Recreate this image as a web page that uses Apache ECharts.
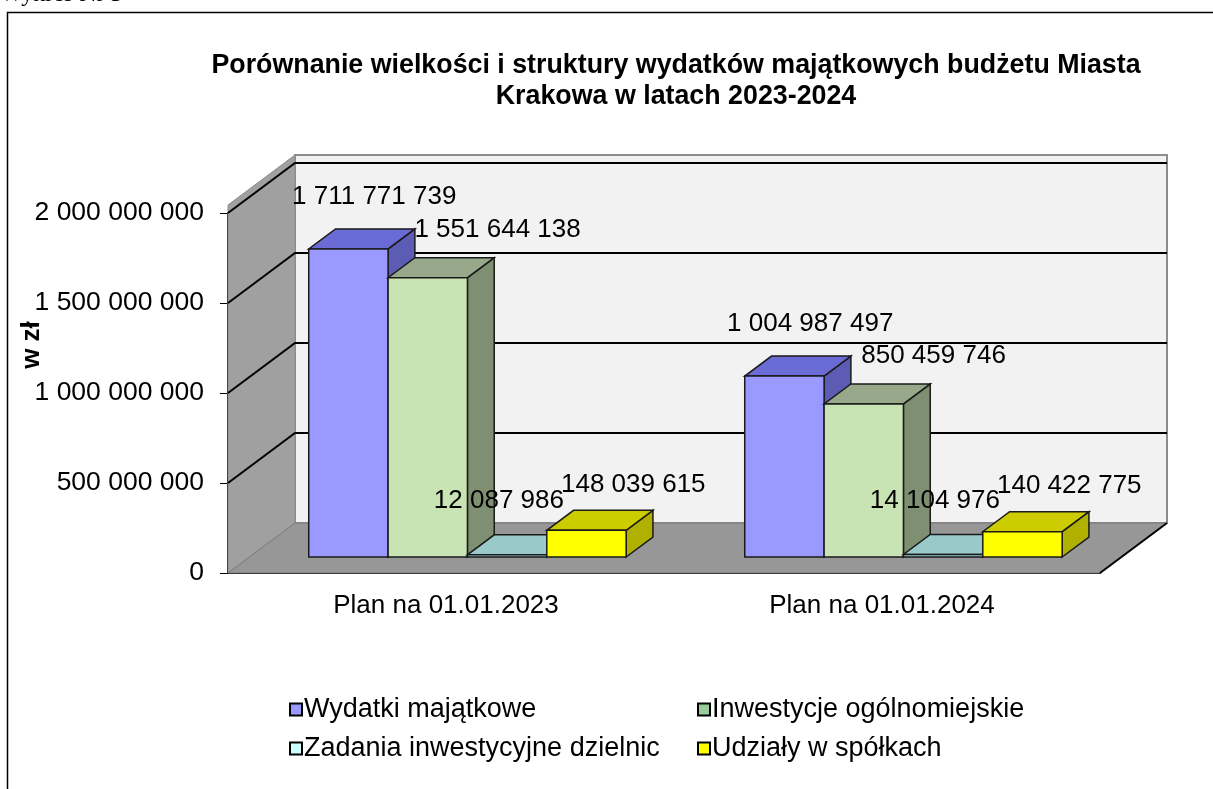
<!DOCTYPE html>
<html>
<head>
<meta charset="utf-8">
<title>Wydatki majątkowe Krakowa</title>
<script src="https://cdn.jsdelivr.net/npm/echarts@6/dist/echarts.min.js"></script>
<style>
  html, body { margin: 0; padding: 0; background: #fff; }
  #chart { width: 1213px; height: 789px; }
</style>
</head>
<body>
<div id="chart"></div>
<script>
// dane wykresu
const categories = ['Plan na 01.01.2023', 'Plan na 01.01.2024'];
const seriesNames = ['Wydatki majątkowe', 'Inwestycje ogólnomiejskie', 'Zadania inwestycyjne dzielnic', 'Udziały w spółkach'];
const wydatkiMajatkowe = [1711771739, 1004987497];
const inwestycjeOgolnomiejskie = [1551644138, 850459746];
const zadaniaDzielnic = [12087986, 14104976];
const udzialyWSpolkach = [148039615, 140422775];
const yTicks = [0, 500000000, 1000000000, 1500000000, 2000000000];

const seriesValues = [wydatkiMajatkowe, inwestycjeOgolnomiejskie, zadaniaDzielnic, udzialyWSpolkach];

// kolory ścian słupków (przód, góra, bok) i kwadracika w legendzie
const barColors = [
  { front: '#9999ff', top: '#6b6bd6', side: '#5c5cb4', legend: '#9999ff' },
  { front: '#c9e4b4', top: '#97a98a', side: '#7f8f72', legend: '#99cc99' },
  { front: '#99cccc', top: '#99c9c9', side: '#6f9f9f', legend: '#ccffff' },
  { front: '#ffff00', top: '#cccc00', side: '#b0b000', legend: '#ffff00' }
];
// przesunięcie etykiet względem tylnej krawędzi górnej ściany
const labelOffsets = [[-1, -32], [43, -28], [-35, -34], [20, -26]];

// "głębia" wykresu 3D w pikselach
const DEPTH_X = 67, DEPTH_Y = -50;
const BAR_D0 = 0.32, BAR_D1 = 0.72;
const BAR_W = 0.182; // szerokość słupka jako część kategorii
const FONT = 'Arial, "Liberation Sans", sans-serif';

function fmt(v) {
  return String(v).replace(/\B(?=(\d{3})+(?!\d))/g, ' ');
}

// ściany, podłoga i linie siatki
function renderWalls(params, api) {
  const cs = params.coordSys;
  const x = cs.x, w = cs.width;
  const y0 = api.coord([0, 0])[1];
  const yMax = api.coord([0, yTicks[yTicks.length - 1]])[1];
  const rim = 8;
  const children = [
    { type: 'rect', shape: { x: x + DEPTH_X, y: yMax + DEPTH_Y - rim, width: w, height: y0 - yMax + rim },
      style: { fill: '#f2f2f2', stroke: '#8c8c8c', lineWidth: 2 } },
    { type: 'polygon', shape: { points: [[x, y0], [x + DEPTH_X, y0 + DEPTH_Y], [x + DEPTH_X, yMax + DEPTH_Y - rim], [x, yMax - rim]] },
      style: { fill: '#a0a0a0', stroke: '#8c8c8c', lineWidth: 1 } },
    { type: 'polygon', shape: { points: [[x, y0], [x + w, y0], [x + w + DEPTH_X, y0 + DEPTH_Y], [x + DEPTH_X, y0 + DEPTH_Y]] },
      style: { fill: '#979797', stroke: '#7a7a7a', lineWidth: 1 } },
    { type: 'line', shape: { x1: x + w, y1: y0, x2: x + w + DEPTH_X, y2: y0 + DEPTH_Y },
      style: { stroke: '#000', lineWidth: 2 } }
  ];
  yTicks.forEach(function (t) {
    if (t === 0) return;
    const yt = api.coord([0, t])[1];
    children.push({ type: 'polyline', shape: { points: [[x, yt], [x + DEPTH_X, yt + DEPTH_Y], [x + w + DEPTH_X, yt + DEPTH_Y]] },
      style: { stroke: '#000', lineWidth: 2, fill: null } });
  });
  return { type: 'group', children: children };
}

// słupek 3D dla serii si
function renderBar(si) {
  return function (params, api) {
    const ci = api.value(0);
    const v = api.value(1);
    const base = api.coord([ci, 0]);
    const top = api.coord([ci, v]);
    const band = api.size([1, 0])[0];
    const bw = band * BAR_W;
    const x0 = base[0] - 2 * bw + si * bw + BAR_D0 * DEPTH_X;
    const x1 = x0 + bw;
    const yb = base[1] + BAR_D0 * DEPTH_Y;
    const yt = top[1] + BAR_D0 * DEPTH_Y;
    const dx = (BAR_D1 - BAR_D0) * DEPTH_X, dy = (BAR_D1 - BAR_D0) * DEPTH_Y;
    const c = barColors[si];
    const off = labelOffsets[si];
    const edge = { stroke: '#1a1a1a', lineWidth: 1.5 };
    return {
      type: 'group',
      children: [
        { type: 'polygon', shape: { points: [[x1, yb], [x1 + dx, yb + dy], [x1 + dx, yt + dy], [x1, yt]] },
          style: Object.assign({ fill: c.side }, edge) },
        { type: 'polygon', shape: { points: [[x0, yt], [x1, yt], [x1 + dx, yt + dy], [x0 + dx, yt + dy]] },
          style: Object.assign({ fill: c.top }, edge) },
        { type: 'rect', shape: { x: x0, y: yt, width: bw, height: yb - yt },
          style: Object.assign({ fill: c.front }, edge) },
        { type: 'text', z2: 100, x: (x0 + x1) / 2 + dx + off[0], y: yt + dy + off[1],
          style: { text: fmt(v), fill: '#000', font: '26px ' + FONT, align: 'center', verticalAlign: 'middle' } }
      ]
    };
  };
}

const series = [{
  name: 'tlo',
  type: 'custom',
  silent: true,
  z: 1,
  renderItem: renderWalls,
  data: [[0, 0]]
}];
seriesNames.forEach(function (name, si) {
  series.push({
    name: name,
    type: 'custom',
    z: 2,
    itemStyle: { color: barColors[si].legend },
    renderItem: renderBar(si),
    encode: { x: 0, y: 1 },
    data: seriesValues[si].map(function (v, i) { return [i, v]; })
  });
});

const legendBase = {
  orient: 'vertical',
  icon: 'rect',
  itemWidth: 12,
  itemHeight: 12,
  itemGap: 12,
  top: 691,
  itemStyle: { borderColor: '#000', borderWidth: 2 },
  textStyle: { color: '#000', fontSize: 27, fontFamily: FONT, padding: [0, 0, 0, -3] }
};

const chart = echarts.init(document.getElementById('chart'));
chart.setOption({
  backgroundColor: '#fff',
  animation: false,
  grid: { left: 228, right: 113, top: 213, bottom: 216 },
  xAxis: {
    type: 'category',
    data: categories,
    axisLine: { lineStyle: { color: '#000', width: 2 } },
    axisTick: { length: 8, lineStyle: { color: '#000' } },
    axisLabel: { color: '#000', fontSize: 26, fontFamily: FONT, margin: 20 },
    splitLine: { show: false }
  },
  yAxis: {
    type: 'value',
    min: 0,
    max: 2000000000,
    interval: 500000000,
    axisLine: { show: true, lineStyle: { color: '#000', width: 2 } },
    axisTick: { show: true, length: 8, lineStyle: { color: '#000' } },
    axisLabel: { color: '#000', fontSize: 26.5, fontFamily: FONT, margin: 24, formatter: fmt },
    splitLine: { show: false }
  },
  legend: [
    Object.assign({ left: 284, data: [seriesNames[0], seriesNames[2]] }, legendBase),
    Object.assign({ left: 692, data: [seriesNames[1], seriesNames[3]] }, legendBase)
  ],
  graphic: [
    { type: 'rect', z: -10, shape: { x: 7.5, y: 12.5, width: 1300, height: 900 },
      style: { fill: null, stroke: '#000', lineWidth: 1.5 } },
    { type: 'text', x: 0, y: 7, style: { text: 'Wykres Nr 3', font: '24px "Liberation Serif", serif', fill: '#000', verticalAlign: 'bottom' } },
    { type: 'text', x: 676, y: 81, style: {
        text: 'Porównanie wielkości i struktury wydatków majątkowych budżetu Miasta\nKrakowa w latach 2023-2024',
        font: 'bold 26.8px ' + FONT, fill: '#000', align: 'center', verticalAlign: 'middle', lineHeight: 31 } },
    { type: 'text', x: 32, y: 345, rotation: Math.PI / 2, style: {
        text: 'w zł', font: 'bold 26px ' + FONT, fill: '#000', align: 'center', verticalAlign: 'middle' } }
  ],
  series: series
});
</script>
</body>
</html>
